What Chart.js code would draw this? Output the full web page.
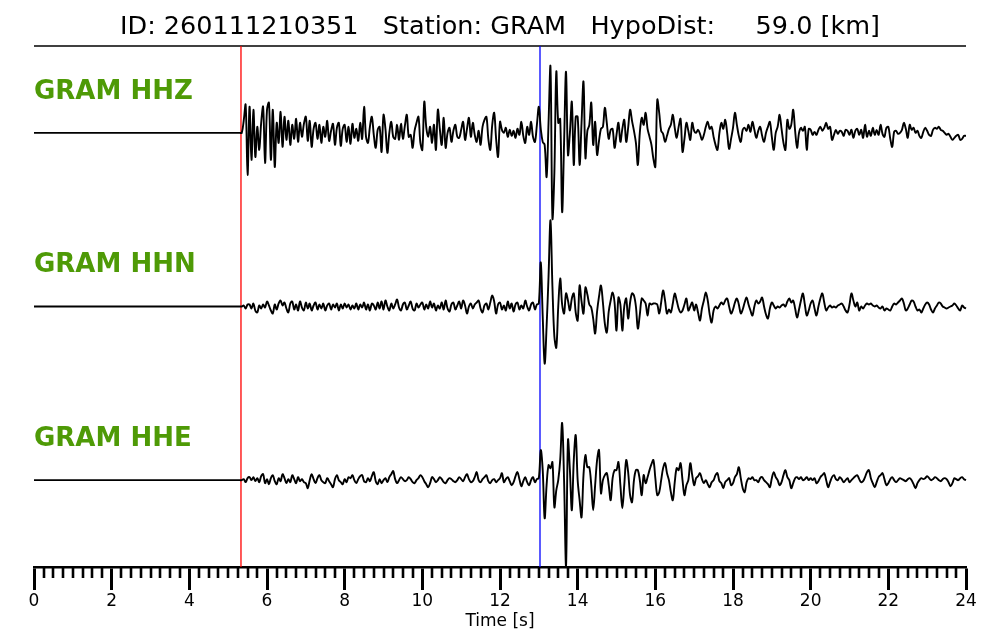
<!doctype html>
<html>
<head>
<meta charset="utf-8">
<title>GRAM three-component record</title>
<script src="https://cdn.jsdelivr.net/npm/chart.js@4"></script>
<style>
  html, body { margin: 0; padding: 0; background: #fff; }
</style>
</head>
<body>
<canvas id="seis" width="1000" height="640"></canvas>
<script>
/* Event header */
const EVENT_ID = '260111210351';
const STATION = 'GRAM';
const HYPO_DIST_KM = 59.0;
const CHANNELS = ['HHZ', 'HHN', 'HHE'];

/* Picks [s] */
const P_PICK = 5.33;
const S_PICK = 13.03;

/* Time axis [s] */
const X_MIN = 0;
const X_MAX = 24;
const MAJOR_STEP = 2;
const MINOR_STEP = 0.25;

/* Traces: quiet from 0 s, then sampled every DT from T0 (amplitude in display counts, up = positive).
   One row = one second (20 samples). */
const T0 = 5.0;
const DT = 0.05;

const HHZ = [
  0, 0, 0, 0, 0, 0, 0, 0, 12, 28, -42, 26, -27, 23, -24, 6, -17, 10, 26, -30,
  23, 30, -27, 23, -34, 10, -10, 21, -14, 16, -7, 12, -12, 8, -6, 14, -9, 10, -4, 9,
  16, -8, 12, -14, 4, 10, -6, 8, -10, 6, -4, 12, -8, 2, 9, -12, 5, 10, -13, 4,
  8, -9, 6, -11, 9, -5, 4, -8, 10, -6, 26, -4, -10, 6, 16, -2, -15, 3, 6, -19,
  18, 4, -20, 0, 11, -4, -6, 8, -7, 9, -6, 7, 18, -4, -2, -15, 2, 10, 16, -10,
  -17, 31, 6, -4, 6, -10, 8, -17, 23, 4, -12, 15, -15, 0, 5, -9, 2, 8, -4, -5,
  3, 11, -7, 4, 15, -4, 10, -2, -9, 2, -12, 6, 13, 16, -6, -17, 8, 20, -6, -24,
  11, 3, 0, 5, -4, 3, -3, 2, -5, 4, -2, 11, -3, -10, 6, -2, 11, -4, -9, 8,
  26, 4, -9, -12, -44, 10, 66, -85, -40, 61, 10, 14, -79, -10, 61, -22, 0, 31, -32, 16,
  16, -32, 10, 51, -25, 2, 8, 30, -12, 11, -22, -8, 4, 6, 25, 10, -6, 3, 4, -15,
  -2, 10, -9, 4, 13, -9, 5, 23, 12, 2, -10, -32, 0, 15, 8, 20, 4, -4, -12, -26,
  -34, 33, 20, 2, -1, -9, -3, 4, 8, 18, 5, -5, 6, 14, -19, -6, 10, 2, -7, 10,
  2, 0, 3, -1, -7, -2, 6, 11, 4, 6, -4, -12, -17, 0, 10, 4, 13, 0, -16, -6,
  5, 20, 8, -3, -9, 3, 5, 2, 8, 1, 11, 3, -5, 2, 6, -3, -9, 0, 6, 11,
  -4, -17, 0, 6, 18, 4, -10, -17, 13, 4, 8, 23, 2, -15, 0, 5, 2, 6, -17, 4,
  3, -2, 1, -2, 3, 6, 2, 5, 10, 4, 6, -7, -2, 3, -1, 2, 1, -3, 3, 2,
  -2, 3, -5, 2, 4, -2, 3, -5, 8, -4, 2, -3, 5, -2, 3, -2, 8, -1, -4, 5,
  6, -6, -14, 1, 2, -1, 0, 3, 10, 4, -5, 8, 3, 5, 0, 2, -3, -5, 1, 5,
  2, -2, -3, 3, 5, 4, 6, 3, 2, 0, -2, -1, -4, -7, -5, -3, -2, -7, -6, -3, -3
];

const HHN = [
  0, 0, 0, 0, 0, 0, 0, 0, 1, -2, 2, 2, -2, 3, -4, -6, 1, -2, 2, -1,
  5, 1, -4, -7, 2, -3, 3, 6, 1, 4, -2, -6, 3, 5, -3, 2, -4, 5, -1, -4,
  4, -2, 3, -4, 1, 4, -3, 2, -2, 3, -4, 1, 3, -3, 2, -1, 3, -4, 2, -2,
  3, -1, 2, -3, 1, -2, 3, -3, 2, -1, 4, -3, 2, -4, 3, 1, -3, 4, -2, 5,
  -3, 6, 0, -4, 3, -2, 2, 7, -1, -4, 2, 4, -3, 1, 5, -2, -4, 3, -1, 2,
  4, -3, 2, -2, 5, -1, 3, -4, 1, -2, 4, -3, 6, -2, -5, 2, 4, -3, 1, 5,
  -2, 6, 1, -7, 0, 3, -2, 2, 4, 6, -2, -6, 1, 3, -3, 4, 11, 5, -7, 2,
  4, -3, 1, -4, 5, -2, 3, -5, 2, 4, -3, 1, -2, 6, 0, -4, 2, 4, -3, 2,
  3, 44, -10, -57, -20, 30, 86, 20, -30, -41, 0, 28, 2, -7, 13, 6, -4, 8, 13, -6,
  -14, 21, 5, -7, 19, 12, 2, -1, -12, -27, -5, 10, 21, 4, -17, -26, -5, 6, 14, 4,
  -24, 9, 2, -24, 0, 8, -12, 4, 13, 11, 0, -22, -8, 8, 6, 3, -9, 3, 2, 3,
  3, 2, -7, 4, 16, 6, -7, -3, -6, 3, 13, 6, -2, -6, -4, 2, 8, -4, 0, 4,
  -4, 2, -6, -14, -2, 6, 14, 6, -8, -16, -4, 0, -2, 1, 4, 2, 6, 8, 0, -7,
  -3, 4, 8, 2, -7, -3, 4, 9, 2, -4, -9, 0, 6, 3, 5, 9, 0, -8, -12, -2,
  4, 1, -2, 0, -1, 1, 2, 0, 5, 8, 4, 6, -2, -11, -3, 6, 13, 2, -9, -4,
  3, 6, -2, -9, 0, 8, 13, 4, -4, -1, 1, -1, 0, -1, 1, 2, 3, 0, -4, -6,
  2, 13, 6, 0, 4, -4, 0, -2, 1, 3, 2, 3, 1, 0, 1, -1, -2, 0, -4, -2,
  -3, -4, 0, 3, 2, 4, 6, 8, 3, -4, -2, 2, 6, 5, 0, -4, -3, -6, -2, 2,
  4, 2, -3, -6, -2, 1, 4, 3, 0, -1, -2, -1, 0, 1, 3, 1, -2, -4, 1, -1, -2
];

const HHE = [
  0, 0, 0, 0, 0, 0, 0, 0, 1, -2, 2, 3, 0, 3, -1, 2, -2, 4, 6, -3,
  1, -4, 2, 5, -1, -4, 2, -1, 6, 2, -3, 1, -2, 5, 1, -3, 3, -1, 1, -2,
  -3, -8, 0, 6, 1, -3, 2, 5, 0, -2, -3, 2, -1, -4, -7, 1, 5, 0, -2, -4,
  1, -2, 3, 2, 5, 0, -3, 1, 4, 5, -1, -2, 2, -1, 4, 8, -1, -4, 1, -3,
  0, 2, -2, 3, 6, 9, 1, -3, 0, 3, 1, -1, 0, 3, 1, -2, -3, 0, 2, 5,
  3, -1, -4, -7, -3, 3, 1, -2, 0, 3, 1, -2, -3, 0, 2, 1, -1, -2, 0, 3,
  1, -1, 3, 6, 1, -2, -1, 3, 8, 0, -2, 1, 3, 5, -1, -3, 0, 1, -2, 0,
  2, 7, -2, 1, 3, -1, -5, -2, 4, 8, 1, -6, -1, 3, -2, -5, 0, 3, -2, 1,
  2, 30, 10, -38, -5, 15, 12, 18, -27, -10, 0, 20, 57, 0, -86, 40, 10, -30, 20, 45,
  0, -20, -37, 5, 25, 13, 13, -5, -30, -5, 20, 30, -13, 0, 5, 7, -5, -20, 2, 10,
  10, 18, -5, -28, -5, 20, 8, -15, -22, 0, 10, 10, 0, -15, 5, -3, 3, 10, 16, 20,
  2, -15, -12, 0, 12, 17, 7, 0, -12, -20, -2, 12, 10, 17, 0, -15, -5, 0, 17, 5,
  -5, 2, 4, 7, 1, -3, 0, -4, -7, -2, 0, 5, 7, -1, -3, -8, -2, 0, 2, -5,
  -3, 3, 6, 13, 2, -8, -12, -2, 2, 1, 3, 0, 0, -2, 2, 3, 0, -2, -4, -7,
  2, 8, 3, 0, -5, -2, 5, 10, 3, 0, -8, -3, 2, 3, 1, 3, 0, 1, 3, 0,
  2, 0, 2, -3, -1, 3, 5, 7, 0, -7, -2, 3, 5, 1, 0, 3, 1, -2, 0, 2,
  -2, 0, 2, 4, 5, 1, -2, -1, 3, 8, 10, 2, -3, -7, -2, 3, 5, 7, 1, -5,
  -3, 1, 3, 0, -2, 0, 2, 1, 0, -1, 1, 2, 0, -4, -8, -3, 0, 2, 1, 2,
  4, 2, 0, 1, 3, 2, 0, -1, 1, 2, 1, -2, -6, -3, 2, 1, 0, 2, 3, 1, 0
];

const TRACES = [HHZ, HHN, HHE];

/* Layout of the stacked panel: each trace gets one unit of the y scale */
const SLOTS = TRACES.length;
const COUNTS_PER_SLOT = 173.3;
const LABEL_LIFT = 41;     // px above the trace baseline
const LABEL_COLOR = '#4e9a06';
const FONT = "'DejaVu Sans', 'Liberation Sans', sans-serif";

function tracePoints(amps, slot) {
  const base = SLOTS - slot - 0.5;
  const pts = [{ x: X_MIN, y: base }];
  amps.forEach((a, i) => pts.push({ x: T0 + i * DT, y: base + a / COUNTS_PER_SLOT }));
  return pts;
}

const traceSets = TRACES.map((amps, k) => ({
  label: `${STATION} ${CHANNELS[k]}`,
  data: tracePoints(amps, k),
  borderColor: '#000',
  borderWidth: 1.9,
  pointRadius: 0,
  tension: 0.35,
  clip: false,
}));

const pickLine = (t, color) => ({
  label: 'pick',
  data: [{ x: t, y: 0 }, { x: t, y: SLOTS }],
  borderColor: color,
  borderWidth: 1.3,
  pointRadius: 0,
  clip: false,
});

const topRule = {
  label: 'top',
  data: [{ x: X_MIN, y: SLOTS }, { x: X_MAX, y: SLOTS }],
  borderColor: '#000',
  borderWidth: 1.3,
  pointRadius: 0,
  clip: false,
};

/* Minor ticks below the time axis and the channel names */
const decor = {
  id: 'decor',
  afterDraw(chart) {
    const { ctx, scales: { x, y } } = chart;
    ctx.save();
    ctx.strokeStyle = '#000';
    ctx.lineWidth = 2.6;
    const y0 = chart.chartArea.bottom;
    for (let v = X_MIN; v <= X_MAX + 1e-9; v += MINOR_STEP) {
      if (Math.abs(v / MAJOR_STEP - Math.round(v / MAJOR_STEP)) < 1e-6) continue;
      const px = Math.round(x.getPixelForValue(v));
      ctx.beginPath();
      ctx.moveTo(px, y0);
      ctx.lineTo(px, y0 + 11);
      ctx.stroke();
    }
    ctx.fillStyle = LABEL_COLOR;
    ctx.font = `bold 26px ${FONT}`;
    ctx.textBaseline = 'middle';
    ctx.textAlign = 'left';
    CHANNELS.forEach((ch, k) => {
      const py = y.getPixelForValue(SLOTS - k - 0.5) - LABEL_LIFT;
      ctx.fillText(`${STATION} ${ch}`, x.left, py);
    });
    ctx.restore();
  },
};

new Chart(document.getElementById('seis'), {
  type: 'line',
  data: { datasets: [...traceSets, pickLine(P_PICK, '#ff0000'), pickLine(S_PICK, '#0000ff'), topRule] },
  options: {
    responsive: false,
    animation: false,
    events: [],
    layout: { padding: { left: 34, right: 34, top: 0, bottom: 10 } },
    plugins: {
      legend: { display: false },
      tooltip: { enabled: false },
      title: {
        display: true,
        text: `ID: ${EVENT_ID}   Station: ${STATION}   HypoDist:     ${HYPO_DIST_KM.toFixed(1)} [km]`,
        color: '#000',
        font: { family: FONT, size: 25.5, weight: 'normal' },
        padding: { top: 12, bottom: 3.4 },
      },
    },
    scales: {
      x: {
        type: 'linear',
        min: X_MIN,
        max: X_MAX,
        grid: { drawOnChartArea: false, drawTicks: true, tickLength: 23, tickWidth: 3, tickColor: '#000' },
        border: { display: true, color: '#000', width: 2.5 },
        ticks: { stepSize: MAJOR_STEP, color: '#000', padding: 3, maxRotation: 0, font: { family: FONT, size: 17, lineHeight: 1 } },
        title: { display: true, text: 'Time [s]', color: '#000', padding: { top: 0, bottom: 0 }, font: { family: FONT, size: 17, lineHeight: 1 } },
      },
      y: { type: 'linear', min: 0, max: SLOTS, display: false },
    },
  },
  plugins: [decor],
});
</script>
</body>
</html>
